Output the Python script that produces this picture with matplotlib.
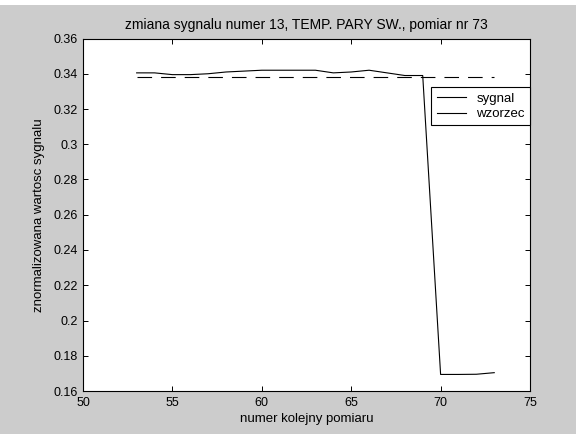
import matplotlib
matplotlib.use("Agg")
import matplotlib.pyplot as plt
from matplotlib.patches import Rectangle

plt.rcParams["font.family"] = ["Liberation Sans", "DejaVu Sans"]
plt.rcParams["lines.scale_dashes"] = False

# measurement numbers and normalised signal values
pomiar = [53, 54, 55, 56, 57, 58, 59, 60, 61, 62, 63,
          64, 65, 66, 67, 68, 69, 70, 71, 72, 73]
sygnal = [0.3405, 0.3405, 0.3395, 0.3395, 0.3400, 0.3410, 0.3415, 0.3420, 0.3420, 0.3420, 0.3420,
          0.3405, 0.3410, 0.3420, 0.3405, 0.3390, 0.3390, 0.1694, 0.1694, 0.1695, 0.1704]
wzorzec = [0.3383] * len(pomiar)

x_ticks = [50, 55, 60, 65, 70, 75]
y_ticks = [0.16, 0.18, 0.2, 0.22, 0.24, 0.26, 0.28, 0.3, 0.32, 0.34, 0.36]
y_ticklabels = ["0.16", "0.18", "0.2", "0.22", "0.24", "0.26", "0.28", "0.3", "0.32", "0.34", "0.36"]

fig = plt.figure(figsize=(5.76, 4.34), dpi=100, facecolor="#cccccc")
# white strip at the top edge of the scan
fig.patches.append(Rectangle((0, 1 - 5 / 434), 1, 5 / 434, transform=fig.transFigure,
                             facecolor="white", edgecolor="none"))

ax = fig.add_axes([83 / 576, 43 / 434, 447 / 576, 352.5 / 434])
ax.plot(pomiar, sygnal, color="black", lw=0.8, label="sygnal")
ax.plot(pomiar, wzorzec, color="black", lw=0.8, dashes=(10.5, 6.5), label="wzorzec")

ax.set_xlim(50, 75)
ax.set_ylim(0.16, 0.36)
ax.set_xticks(x_ticks)
ax.set_yticks(y_ticks)
ax.set_yticklabels(y_ticklabels)
ax.tick_params(direction="in", length=3.5, width=0.7, top=True, right=True,
               labelsize=9, colors="black", pad=4)
for s in ax.spines.values():
    s.set_linewidth(0.8)

ax.set_title("zmiana sygnalu numer 13, TEMP. PARY SW., pomiar nr 73", fontsize=10, pad=7)
ax.set_xlabel("numer kolejny pomiaru", fontsize=9.5, labelpad=3)
ax.set_ylabel("znormalizowana wartosc sygnalu", fontsize=9.5, labelpad=6)

leg = ax.legend(loc="upper right", bbox_to_anchor=(1.0, 0.862), fontsize=9.5,
                fancybox=False, framealpha=1, edgecolor="black", borderpad=0.4,
                handlelength=2.2, handletextpad=0.8, labelspacing=0.25,
                borderaxespad=0)
leg.get_frame().set_linewidth(0.8)
for h in leg.get_lines():
    h.set_linestyle("-")

fig.savefig("out.png", dpi=100, facecolor=fig.get_facecolor())
